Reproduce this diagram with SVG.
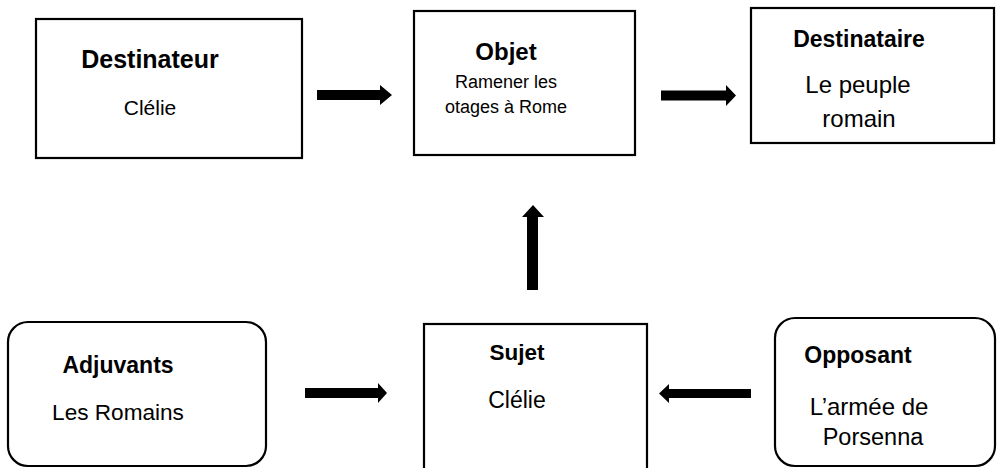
<svg xmlns="http://www.w3.org/2000/svg" width="997" height="468" viewBox="0 0 997 468">
<style>
.box{fill:#fff;stroke:#000;stroke-width:2.2}
.t{font-family:"Liberation Sans",Arial,sans-serif;fill:#000;text-anchor:middle}
.b{font-weight:bold}
.arr{fill:#000;stroke:none}
</style>
<rect x="0" y="0" width="997" height="468" fill="#fff"/>
<g id="destinateur">
<rect class="box" x="36" y="19" width="266" height="139"/>
<text class="t b" x="150" y="68" font-size="25">Destinateur</text>
<text class="t" x="150" y="115" font-size="21">Clélie</text>
</g>
<g id="objet">
<rect class="box" x="414" y="11" width="221" height="144"/>
<text class="t b" x="506" y="60" font-size="24">Objet</text>
<text class="t" x="506" y="88" font-size="18">Ramener les</text>
<text class="t" x="506" y="113" font-size="18">otages à Rome</text>
</g>
<g id="destinataire">
<rect class="box" x="751" y="8" width="243" height="135"/>
<text class="t b" x="859" y="47" font-size="23">Destinataire</text>
<text class="t" x="858" y="93" font-size="24">Le peuple</text>
<text class="t" x="859" y="127" font-size="24">romain</text>
</g>
<g id="adjuvants">
<rect class="box" x="8" y="322" width="258" height="144" rx="20" ry="20"/>
<text class="t b" x="118" y="373" font-size="23">Adjuvants</text>
<text class="t" x="118" y="420" font-size="22.6">Les Romains</text>
</g>
<g id="sujet">
<rect class="box" x="424" y="324" width="223" height="160"/>
<text class="t b" x="517" y="360" font-size="22.5">Sujet</text>
<text class="t" x="517" y="408" font-size="23">Clélie</text>
</g>
<g id="opposant">
<rect class="box" x="775" y="318" width="220" height="148" rx="20" ry="20"/>
<text class="t b" x="858" y="363" font-size="23">Opposant</text>
<text class="t" x="869" y="415" font-size="24">L’armée de</text>
<text class="t" x="873" y="445" font-size="23.5">Porsenna</text>
</g>
<g id="connectors">
<polygon class="arr" points="317,90 380,90 380,85 392,95 380,105 380,100 317,100"/>
<polygon class="arr" points="661,90.5 726,90.5 726,85 736,95.5 726,106 726,100.5 661,100.5"/>
<polygon class="arr" points="527,290 527,217 522,217 533,205 544,217 538,217 538,290"/>
<polygon class="arr" points="305,388 378,388 378,383 387,393 378,403 378,398 305,398"/>
<polygon class="arr" points="751,389 669,389 669,384 659,393.5 669,403 669,398 751,398"/>
</g>
</svg>
